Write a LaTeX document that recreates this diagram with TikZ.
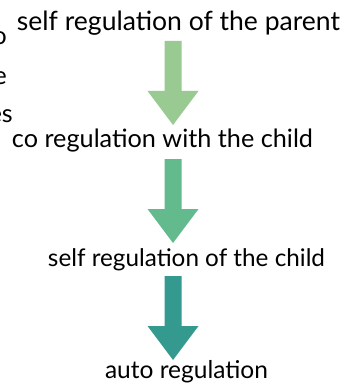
\documentclass[tikz,border=0pt]{standalone}
\usepackage{fontspec}
\usepackage{graphicx}
\setmainfont{Lato}
\definecolor{arrowA}{RGB}{152,202,146}
\definecolor{arrowB}{RGB}{99,186,141}
\definecolor{arrowC}{RGB}{52,153,142}
\tikzset{
  lbl/.style={anchor=base, inner sep=0pt, outer sep=0pt, text=black},
  frag/.style={anchor=base east, inner sep=0pt, text=black, font=\fontsize{25}{28}\selectfont},
  pics/blockarrow/.style={code={
    \fill (-8.5,0) -- (8.5,0) -- (8.5,50) -- (25.5,50) -- (0,84) -- (-25.5,50) -- (-8.5,50) -- cycle;
  }}
}
\begin{document}
\begin{tikzpicture}[x=1pt,y=-1pt]
\useasboundingbox (0,0) rectangle (361,390);
% clipped fragments at the left edge
\node[frag] (f1) at (7,45) {o};
\node[frag] (f2) at (7,85) {e};
\node[frag] (f3) at (13,123) {es};
% labels
\node[lbl] (t1) at (178.5,31) {\resizebox{323pt}{!}{self regulation of the parent}};
\node[lbl] (t2) at (162.5,148) {\resizebox{301pt}{!}{co regulation with the child}};
\node[lbl] (t3) at (186.5,266) {\resizebox{277pt}{!}{self regulation of the child}};
\node[lbl] (t4) at (186.5,378) {\resizebox{163pt}{!}{auto regulation}};
% block arrows
\coordinate (a1) at (173,41);
\coordinate (a2) at (173,159);
\coordinate (a3) at (173,276);
\pic[fill=arrowA] at (a1) {blockarrow};
\pic[fill=arrowB] at (a2) {blockarrow};
\pic[fill=arrowC] at (a3) {blockarrow};
\end{tikzpicture}
\end{document}
